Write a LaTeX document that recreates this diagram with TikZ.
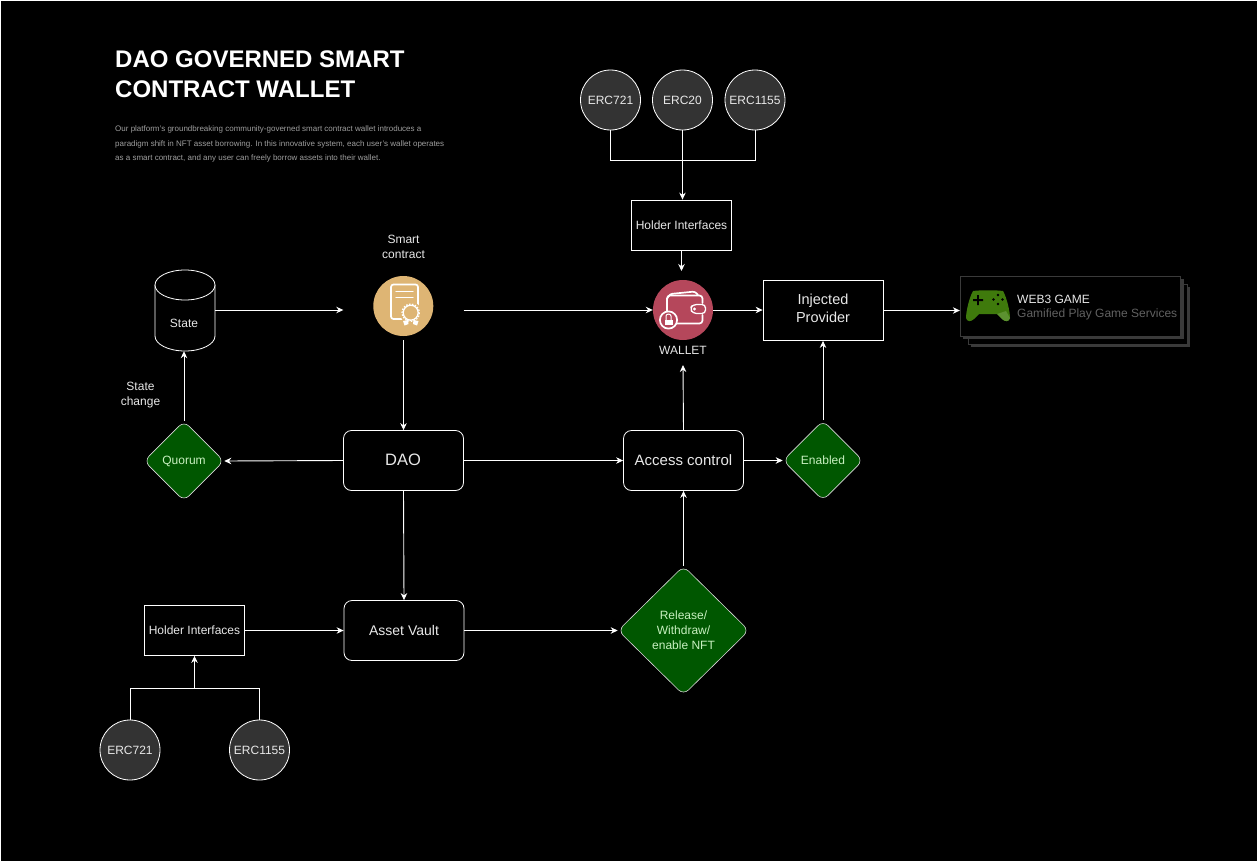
\documentclass[tikz,border=0pt]{standalone}
\usepackage{fontspec}
\setmainfont{Liberation Sans}
\usetikzlibrary{shapes.geometric,arrows.meta}
\definecolor{ercgray}{HTML}{333333}
\definecolor{greenfill}{HTML}{005700}
\definecolor{greentext}{HTML}{C8F0C0}
\definecolor{scgold}{HTML}{DEB574}
\definecolor{walletred}{HTML}{B5475B}
\definecolor{padgreen}{HTML}{3F7A0C}
\definecolor{padlight}{HTML}{5C9130}
\definecolor{softwhite}{HTML}{E8E8E8}
\definecolor{stackgray}{HTML}{3A3A3A}
\tikzset{
 x=1pt,y=-1pt,
 every node/.style={font=\fontsize{12}{15}\selectfont,text=softwhite,align=center,inner sep=0pt},
 flow/.style={draw=white,line width=0.9pt,-{Stealth[length=7pt,width=6.5pt]}},
 plainline/.style={draw=white,line width=0.9pt},
 erc/.style={circle,draw=white,fill=ercgray,line width=0.8pt,minimum size=60pt},
 sharpbox/.style={rectangle,draw=white,fill=black,line width=0.8pt},
 roundbox/.style={rectangle,draw=white,fill=black,line width=0.8pt,rounded corners=8pt,minimum width=120pt,minimum height=60pt},
 dec/.style={diamond,aspect=1,draw=white!85!black,fill=greenfill,line width=0.6pt,rounded corners=7pt,text=greentext},
 icon/.style={draw=white,line width=1.7pt,line join=round,line cap=round},
 ghost/.style={rectangle,minimum width=120pt,minimum height=60pt},
 stackbox/.style={draw=stackgray,fill=black,line width=0.8pt},
}
\begin{document}
\begin{tikzpicture}
\useasboundingbox (0,0) rectangle (1258,862);
\fill[black] (0,0) rectangle (1258,862);
\draw[white,line width=0.8pt] (0.5,0.5) rectangle (1257.5,861.5);

% title
\node[anchor=west,align=left,text=white,font=\bfseries\fontsize{24}{29.5}\selectfont] (title) at (115,74) {DAO GOVERNED SMART\\CONTRACT WALLET};
\node[anchor=north west,align=left,text=white!62!black,font=\fontsize{8}{14.6}\selectfont] (blurb) at (115,125.5) {Our platform's groundbreaking community-governed smart contract wallet introduces a\\paradigm shift in NFT asset borrowing. In this innovative system, each user's wallet operates\\as a smart contract, and any user can freely borrow assets into their wallet.};

% top ERC group
\node[erc] (e1) at (610.5,100) {ERC721};
\node[erc] (e2) at (682.5,100) {ERC20};
\node[erc] (e3) at (755,100) {ERC1155};
\node[sharpbox,minimum width=100pt,minimum height=50pt] (hi1) at (681.5,225) {Holder Interfaces};
\coordinate (topjoin) at (682,160);
\draw[plainline] (e1.south) |- (topjoin);
\draw[plainline] (e3.south) |- (topjoin);
\draw[flow] (e2.south) -- (hi1.north -| e2.south);

% state cylinder
\draw[draw=white,fill=black,line width=0.8pt] (155,285) -- (155,336) arc[start angle=180,end angle=360,x radius=30,y radius=-15] -- (215,285);
\draw[draw=white,fill=black,line width=0.8pt] (185,285) ellipse[x radius=30,y radius=15];
\node[minimum width=60pt,minimum height=80pt] (state) at (185,311) {};
\node at (184,323) {State};

% smart contract
\node[ghost] (sc) at (403.5,310) {};
\fill[scgold] (403.3,306) circle[radius=30];
\draw[icon,rounded corners=2.5pt] (406,319) -- (391,319) -- (391,284.5) -- (418,284.5) -- (418,306);
\draw[icon,line width=1.4pt] (396,291.7) -- (413,291.7) (396,297.3) -- (413,297.3);
\fill[scgold] (410.7,312.7) circle[radius=11];
\draw[icon,line width=1.3pt,fill=scgold] (410.7,312.7) circle[radius=7.5];
\draw[white,line width=1.2pt,dash pattern=on 1.5pt off 1.5pt] (410.7,312.7) circle[radius=8.7];
\fill[white] (403,321) -- (408,320) -- (408.5,324) -- (404.5,325.5) -- cycle;
\fill[white] (418.5,321) -- (413.5,320) -- (413,324) -- (417,325.5) -- cycle;
\node[anchor=south] (sclabel) at (403.5,258.5) {Smart\\contract};

% wallet
\node[circle,fill=walletred,minimum size=60pt] (wallet) at (683,310) {};
\draw[icon,rounded corners=3pt] (675,323.5) -- (702.5,323.5) -- (702.5,315);
\draw[icon,rounded corners=3pt] (702.5,303) -- (702.5,295.5) -- (667,295.5) -- (667,314);
\draw[icon,rounded corners=2.5pt] (667.5,298) -- (670,294) -- (695,291.5) -- (698,295);
\draw[icon,line width=1.3pt,fill=walletred,rounded corners=3.5pt] (705.5,304.5) -- (693,304.5) -- (690,308.5) -- (693,313.5) -- (705.5,313.5) -- cycle;
\fill[white] (694.5,309) circle[radius=1.6];
\draw[icon,fill=walletred] (668.5,320) circle[radius=8.6];
\fill[white] (664.5,319.5) rectangle (672.5,325);
\draw[white,line width=1pt] (666,320) -- (666,316) .. controls (666,313.5) and (671,313.5) .. (671,316) -- (671,320);
\node (wlabel) at (683,350.5) {WALLET};

% injected provider
\node[sharpbox,minimum width=120pt,minimum height=60pt] (ip) at (823,310.5) {};
\node[font=\fontsize{14.5}{18}\selectfont] (iptext) at (823,308.5) {Injected\\Provider};

% game stack
\fill[stackgray] (971,287) rectangle (1189.5,347);
\draw[stackbox] (968,284) rectangle (1187,344.5);
\fill[stackgray] (963,279) rectangle (1184,339);
\node[rectangle,draw=stackgray,fill=black,line width=0.8pt,minimum width=220.5pt,minimum height=60pt] (game) at (1070.5,306) {};
\fill[padgreen] (973,291) .. controls (980,290) and (996,290) .. (1003,291) .. controls (1007,298) and (1010,312) .. (1010,318) .. controls (1009,322) and (1005,322) .. (1002,319) -- (997,314) -- (979,314) -- (974,319) .. controls (971,322) and (967,322) .. (966,318) .. controls (966,312) and (969,298) .. (973,291) -- cycle;
\fill[padlight] (997,314) -- (1006,311) -- (1010,318) .. controls (1009,322) and (1005,322) .. (1002,319) -- cycle;
\fill[black] (973,299.2) rectangle (983,301) (977.1,295) rectangle (978.9,305);
\fill[black] (998,295) circle[radius=1.3] (998,304) circle[radius=1.3] (993.5,299.5) circle[radius=1.3] (1002.5,299.5) circle[radius=1.3];
\node[anchor=west] (g1t) at (1017,299) {WEB3 GAME};
\node[anchor=west,text=white!38!black] (g2t) at (1017,314) {Gamified Play Game Services};

% middle row
\node[roundbox] (dao) at (403.5,460.5) {};
\node[font=\fontsize{16.5}{20}\selectfont] (daotext) at (403,459.5) {DAO};
\node[roundbox,font=\fontsize{15}{18}\selectfont] (ac) at (683.5,460.5) {Access control};
\node[dec,minimum width=80pt,minimum height=80pt,yshift=-0.5pt] (quorum) at (184,460.5) {Quorum};
\node[dec,minimum width=80pt,minimum height=80pt] (enabled) at (823,460.5) {Enabled};

% bottom
\node[roundbox,font=\fontsize{14}{17}\selectfont] (vault) at (404,630.5) {Asset Vault};
\node[dec,minimum width=131pt,minimum height=129pt] (rel) at (683.5,630.5) {Release/\\Withdraw/\\enable NFT};
\node[sharpbox,minimum width=100pt,minimum height=50pt] (hi2) at (194.5,630.5) {Holder Interfaces};
\node[erc] (e4) at (130,750) {ERC721};
\node[erc] (e5) at (259.5,750) {ERC1155};
\coordinate (botjoin) at (194.5,688);
\draw[plainline] (e4.north) |- (botjoin);
\draw[plainline] (e5.north) |- (botjoin);
\draw[flow] (botjoin) -- (hi2.south);

% connectors
\coordinate (wallettop) at (681.5,271);
\draw[flow] (hi1.south) -- (wallettop);
\draw[flow] (state.east |- sc.west) -- (sc.west);
\draw[flow] (sc.east) -- (wallet.west);
\draw[flow] (wallet.east) -- (ip.west |- wallet.east);
\draw[flow] (ip.east) -- (game.west |- ip.east);
\draw[flow] (sc.south) -- (dao.north);
\draw[flow] (dao.west) -- (quorum.east);
\draw[flow] (quorum.north) -- (state.south -| quorum.north);
\node (statechange) at (140.5,395.5) {State\\change};
\draw[flow] (dao.east) -- (ac.west);
\draw[flow] (ac.east) -- (enabled.west);
\draw[flow] (enabled.north) -- (ip.south -| enabled.north);
\coordinate (wallettarget) at (683,365);
\draw[flow] (ac.north) -- (wallettarget);
\draw[flow] (dao.south) -- (vault.north);
\draw[flow] (hi2.east) -- (vault.west);
\draw[flow] (vault.east) -- (rel.west);
\draw[flow] (rel.north) -- (ac.south);
\end{tikzpicture}
\end{document}
